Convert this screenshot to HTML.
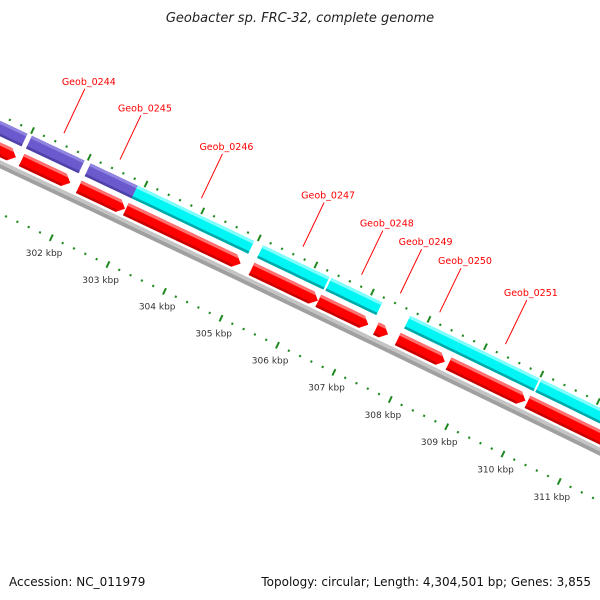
<!DOCTYPE html>
<html><head><meta charset="utf-8"><style>
html,body{margin:0;padding:0;background:#fff;}
svg{display:block;font-family:"DejaVu Sans","Liberation Sans",sans-serif;}
</style></head><body>
<svg id="map" width="600" height="600" viewBox="0 0 600 600" xmlns="http://www.w3.org/2000/svg">
<defs><clipPath id="clip"><rect x="0" y="0" width="600" height="560"/></clipPath></defs>
<text x="300" y="22" text-anchor="middle" font-size="13" font-style="italic" fill="#222">Geobacter sp. FRC-32, complete genome</text>
<g id="plot" clip-path="url(#clip)"></g>
<text x="9" y="586" font-size="12" fill="#111">Accession: NC_011979</text>
<text x="591" y="586" text-anchor="end" font-size="12" fill="#111">Topology: circular; Length: 4,304,501 bp; Genes: 3,855</text>
</svg>
<script>
const genomeLength = 4304501;
const redStarts = [299000, 301042, 302050, 302880, 305101, 306281, 307302, 307688, 308588, 309987];
const redEnds   = [300941, 301899, 302866, 304908, 306274, 307166, 307516, 308522, 309951, 311600];
const outerStarts = [298500, 301026, 302061, 302891, 305105, 306313, 307706, 308599, 310030];
const outerEnds   = [300948, 301954, 302891, 304948, 306278, 307213, 308599, 309998, 311600];
const outerColors = ['purple','purple','purple','cyan','cyan','cyan','cyan','cyan','cyan'];
const geneNames = ['Geob_0244','Geob_0245','Geob_0246','Geob_0247','Geob_0248','Geob_0249','Geob_0250','Geob_0251'];
const geneIndex = [1,2,3,4,5,6,7,8];
const kbpTicks = [302,303,304,305,306,307,308,309,310,311];

const R0 = 42885, cx = -18247, cy = 39023;
const NS = 'http://www.w3.org/2000/svg';
const plot = document.getElementById('plot');
function P(bp, dr){const t = bp/genomeLength*2*Math.PI; const r = R0+dr; return [cx + r*Math.sin(t), cy - r*Math.cos(t)];}
function mk(tag, attrs){const e=document.createElementNS(NS,tag); for(const k in attrs) e.setAttribute(k,attrs[k]); plot.appendChild(e); return e;}
function pts(a){return a.map(p=>p[0].toFixed(2)+','+p[1].toFixed(2)).join(' ');}
const bpPerPx = 1/0.0626;
function band(s,e,dr0,dr1){const a=[],b=[];const n=6;for(let i=0;i<=n;i++){const bp=s+(e-s)*i/n;a.push(P(bp,dr1));b.unshift(P(bp,dr0));}return a.concat(b);}

// backbone
let el = mk('polygon',{points:pts(band(297000,313000,41,45)),fill:'#a0a0a0'});


el = mk('polygon',{points:pts(band(297000,313000,45,48.5)),fill:'#c4c4c4'});



// outer features
const colMap = {purple:['#6a5acd','#8f84e0','#4e41a8'], cyan:['#00f5f5','#80ffff','#00a8a8']};
const oIn = 70, oOut = 84;
for(let i=0;i<outerStarts.length;i++){
  const c = colMap[outerColors[i]];
  const g = document.createElementNS(NS,'g'); plot.appendChild(g);
  
  
  const s=outerStarts[i], e=outerEnds[i];
  for(const [d0,d1,f] of [[oIn,oOut,c[0]],[oOut-3,oOut,c[1]],[oIn,oIn+2.5,c[2]]]){
    const p=document.createElementNS(NS,'polygon'); p.setAttribute('points',pts(band(s,e,d0,d1))); p.setAttribute('fill',f); g.appendChild(p);
  }
}
// red features with arrow heads
const rIn = 51, rOut = 64.5;
function arrow(s,e,d0,d1){const head=Math.min(7*bpPerPx,(e-s));const h=e-head;const a=[],b=[];const n=5;for(let i=0;i<=n;i++){const bp=s+(h-s)*i/n;a.push(P(bp,d1));b.unshift(P(bp,d0));}a.push(P(e,(d0+d1)/2));return a.concat(b);}
for(let i=0;i<redStarts.length;i++){
  const g = document.createElementNS(NS,'g'); plot.appendChild(g);
  
  
  const s=redStarts[i], e=redEnds[i];
  const head=Math.min(7*bpPerPx,e-s);
  let p=document.createElementNS(NS,'polygon'); p.setAttribute('points',pts(arrow(s,e,rIn,rOut))); p.setAttribute('fill','#ff0000'); g.appendChild(p);
  p=document.createElementNS(NS,'polygon'); p.setAttribute('points',pts(band(s,e-head,rOut-3,rOut).slice(0,7).concat([P(e-head*0.6,rOut-3),P(s,rOut-3)]))); p.setAttribute('fill','#ff7070'); g.appendChild(p);
  p=document.createElementNS(NS,'polygon'); p.setAttribute('points',pts(band(s,e-head,rIn,rIn+2.5))); p.setAttribute('fill','#c80000'); g.appendChild(p);
}
// tick rings
for(let bp=297000; bp<=313000; bp+=200){
  const major = bp%1000===0;
  for(const base of [0,89]){
    const L = major?3.5:1.1;
    const a=P(bp,base-L), b=P(bp,base+L);
    el = mk('line',{x1:a[0],y1:a[1],x2:b[0],y2:b[1],stroke:'#1f8a1f','stroke-width':2});
    
    
  }
}
for(const k of kbpTicks){
  const p=P(k*1000,-17);
  el = mk('text',{x:p[0],y:p[1]+3,'text-anchor':'middle','font-size':'9',fill:'#333'});
  el.textContent = k+' kbp';
  
  
}
// gene labels
for(let j=0;j<geneNames.length;j++){
  const i=geneIndex[j]; const mid=(redStarts[i]+redEnds[i])/2;
  const a=P(mid,100), b=P(mid,149);
  el = mk('line',{x1:a[0],y1:a[1],x2:b[0],y2:b[1],stroke:'#ff0000','stroke-width':1});
  
  
  el = mk('text',{x:b[0]+4,y:b[1]-4,'text-anchor':'middle','font-size':'9.5',fill:'#ff0000'});
  el.textContent = geneNames[j];
  
  
}
</script>
</body></html>
